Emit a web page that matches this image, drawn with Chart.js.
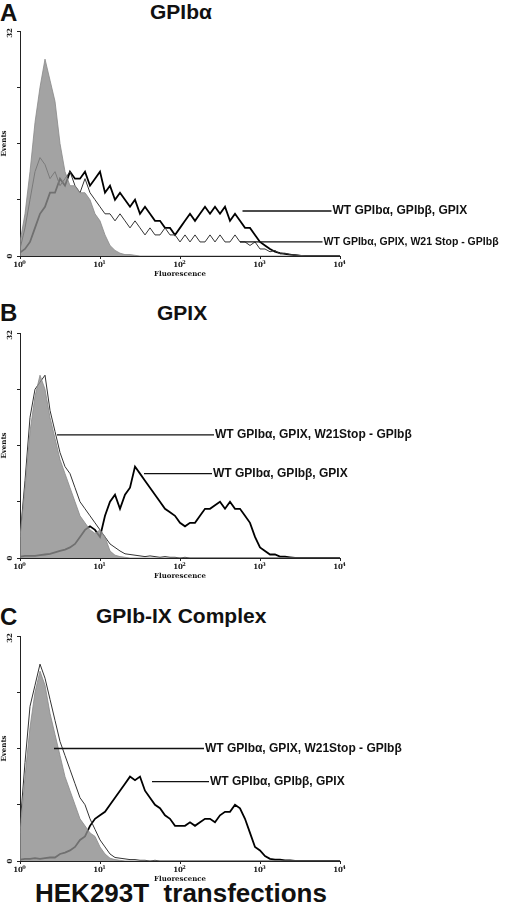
<!DOCTYPE html>
<html><head><meta charset="utf-8">
<script src="https://cdn.jsdelivr.net/npm/chart.js@4"></script>
<style>
body{margin:0;background:#fff;width:520px;height:916px;position:relative;overflow:hidden;font-family:"Liberation Sans",Arial,sans-serif}
.t{position:absolute;font-weight:bold;color:#111;white-space:nowrap}
canvas{position:absolute;left:0}
</style></head><body>
<div class="t" style="left:0;top:-1px;font-size:24px">A</div>
<div class="t" style="left:150px;top:0;font-size:21px">GPIbα</div>
<div class="t" style="left:0;top:299px;font-size:24px">B</div>
<div class="t" style="left:157px;top:301px;font-size:21px">GPIX</div>
<div class="t" style="left:0;top:603px;font-size:24px">C</div>
<div class="t" style="left:96px;top:604px;font-size:21px">GPIb-IX Complex</div>
<div class="t" style="left:35px;top:878px;font-size:26px">HEK293T&nbsp; transfections</div>
<canvas id="cA" width="520" height="260" style="top:20px"></canvas>
<canvas id="cB" width="520" height="260" style="top:322px"></canvas>
<canvas id="cC" width="520" height="260" style="top:625px"></canvas>
<script>
// fluorescence channels: 16 per decade, 10^0 .. 10^4
const decadeLabels = ['0', '1', '2', '3', '4'];

// panel A - GPIbα
const aControl = [2,6,12,19,24,28,25,22,16,12,10,10,9,9,8,6,5,3,1.5,0.8,0.4,0.2,0.2,0.1,0,0,0,0,0,0,0,0,0,0,0,0,0,0,0,0,0,0,0,0,0,0,0,0,0,0,0,0,0,0,0,0,0,0,0,0,0,0,0,0,0];
const aW21 = [1,4,8,12,14,13,11,12,10,11,12,10,9,11,9,8,7,6,6,5,6,5,4,5,4,3,4,3,3,4,3,3,2,3,2,3,2,2,3,2,3,2,2,3,2,2,1.5,2,1,1,0.6,0.8,0.3,0.4,0.2,0.2,0.1,0,0,0,0,0,0,0,0];
const aWT = [0.5,1,2,4,6,7,9,9,11,10,12,11,11,12,10,11,12,9,10,8,9,8,7,8,6,7,6,5,5,4,4,3,4,5,6,5,6,7,6,7,6,7,5,6,5,4,4,3,2,1.5,1,0.6,0.4,0.3,0.2,0.1,0,0,0,0,0,0,0,0,0];
// panel B - GPIX
const bControl = [3,10,18,23,26,24,20,17,14,12,10,8,6,5,4,3.5,4,3,1,0.4,0.2,0.1,0,0,0,0,0,0,0,0,0,0,0,0,0,0,0,0,0,0,0,0,0,0,0,0,0,0,0,0,0,0,0,0,0,0,0,0,0,0,0,0,0,0,0];
const bW21 = [3,11,20,24,25,26,21,18,15,13,12,10,8,7,6,5,4,3,2,1.5,1,0.6,0.5,0.4,0.3,0.2,0.3,0.2,0.1,0.2,0.1,0.1,0,0.1,0,0,0,0,0,0,0,0,0,0,0,0,0,0,0,0,0,0,0,0,0,0,0,0,0,0,0,0,0,0,0];
const bWT = [0.2,0.3,0.3,0.3,0.4,0.5,0.6,0.8,1,1.2,1.5,2,3,4,4.5,4,3,6,8,9,7,9,10,13,12,11,10,9,8,7,6.5,6,5,4.5,5,5,6,7,7,7.5,8,7,8,7,7,6,5,3,1.5,1,0.5,0.5,0.2,0.2,0.1,0,0,0,0,0,0,0,0,0,0];
// panel C - GPIb-IX complex
const cControl = [4,12,19,24,27,25,21,18,15,12,10,8,6,5,4,3.5,2,1,0.4,0.2,0.1,0,0,0,0,0,0,0,0,0,0,0,0,0,0,0,0,0,0,0,0,0,0,0,0,0,0,0,0,0,0,0,0,0,0,0,0,0,0,0,0,0,0,0,0];
const cW21 = [5,14,22,25,28,26,23,20,17,15,13,11,9,8,6,4.5,3,2,1,0.5,0.4,0.3,0.2,0.2,0.1,0.1,0,0.1,0,0,0,0,0,0,0,0,0,0,0,0,0,0,0,0,0,0,0,0,0,0,0,0,0,0,0,0,0,0,0,0,0,0,0,0,0];
const cWT = [0.2,0.3,0.3,0.4,0.3,0.4,0.5,0.5,1,1.2,1.5,2,3,3.5,5,6,6.5,7,8,9,10,11,12,11.5,12,10,9,8,7.5,6.5,6,5,5,5,5.5,5,5.5,6,6,5.5,6.5,7,7,8,7.5,6,4,2,1.5,0.7,0.3,0.2,0.2,0.1,0.1,0,0,0,0,0,0,0,0,0,0];

const labelTop = ['WT GPIbα, GPIbβ, GPIX', 'WT GPIbα, GPIX, W21 Stop - GPIbβ'];
const labelB = ['WT GPIbα, GPIX, W21Stop - GPIbβ', 'WT GPIbα, GPIbβ, GPIX'];

const pts = arr => arr.map((v, i) => ({ x: i, y: v }));

// draws tick labels, axis titles and the pointer lines
const decor = {
  id: 'decor',
  afterDraw(chart, args, opts) {
    const { ctx, chartArea: a, scales: { x, y } } = chart;
    ctx.save();
    ctx.fillStyle = '#111';
    ctx.font = 'bold 7px "DejaVu Serif", serif';
    ctx.textAlign = 'center';
    decadeLabels.forEach((e, i) => {
      const px = x.getPixelForValue(i * 16);
      ctx.fillText('10', px - 2, a.bottom + 11);
      ctx.font = 'bold 5px "DejaVu Serif", serif';
      ctx.fillText(e, px + 4, a.bottom + 8);
      ctx.font = 'bold 7px "DejaVu Serif", serif';
    });
    ctx.fillText('Fluorescence', (a.left + a.right) / 2, a.bottom + 20);
    const vl = (t, py) => { ctx.save(); ctx.translate(a.left - 8, py); ctx.rotate(-Math.PI / 2); ctx.fillText(t, 0, 0); ctx.restore(); };
    vl('0', a.bottom);
    vl('32', a.top + 2);
    ctx.save(); ctx.translate(a.left - 14, (a.top + a.bottom) / 2); ctx.rotate(-Math.PI / 2); ctx.fillText('Events', 0, 0); ctx.restore();
    ctx.strokeStyle = '#111';
    ctx.lineWidth = 1.3;
    ctx.textAlign = 'left';
    ctx.textBaseline = 'middle';
    opts.notes.forEach(n => {
      ctx.font = 'bold ' + (n.size || 12) + 'px "Liberation Sans", Arial, sans-serif';
      const x0 = x.getPixelForValue(n.from), x1 = x.getPixelForValue(n.to), py = y.getPixelForValue(n.y);
      ctx.beginPath(); ctx.moveTo(x0, py); ctx.lineTo(x1, py); ctx.stroke();
      ctx.fillText(n.text, x1 + 1, py);
    });
    ctx.restore();
  }
};

function makeChart(id, control, w21, wt, notes) {
  return new Chart(document.getElementById(id), {
    type: 'line',
    data: {
      datasets: [
        { data: pts(control), borderColor: '#888', borderWidth: 0.8, backgroundColor: 'rgba(140,140,140,0.8)', fill: 'origin', pointRadius: 0 },
        { data: pts(w21), borderColor: '#333', borderWidth: 1, fill: false, pointRadius: 0 },
        { data: pts(wt), borderColor: '#000', borderWidth: 1.8, fill: false, pointRadius: 0 }
      ]
    },
    options: {
      responsive: false, animation: false,
      layout: { padding: { left: 20, right: 180, top: 11, bottom: 0 } },
      plugins: { legend: { display: false }, tooltip: { enabled: false }, decor: { notes } },
      scales: {
        x: { type: 'linear', min: 0, max: 64, afterFit: s => { s.height = 24; },
             ticks: { display: false, stepSize: 16 }, border: { color: '#222', width: 1 },
             grid: { drawOnChartArea: false, tickLength: 3, color: '#222' } },
        y: { min: 0, max: 32, afterFit: s => { s.width = 0; },
             ticks: { display: false, stepSize: 8 }, border: { color: '#222', width: 1 },
             grid: { drawOnChartArea: false, tickLength: 3, color: '#222' } }
      }
    },
    plugins: [decor]
  });
}

makeChart('cA', aControl, aW21, aWT, [
  { from: 44.5, to: 62.3, y: 6.4, text: labelTop[0] },
  { from: 44, to: 60.5, y: 2, text: labelTop[1], size: 10.5 }
]);
makeChart('cB', bControl, bW21, bWT, [
  { from: 7.4, to: 38.8, y: 17.5, text: labelB[0] },
  { from: 24.8, to: 38.4, y: 12, text: labelB[1] }
]);
makeChart('cC', cControl, cW21, cWT, [
  { from: 6.8, to: 36.8, y: 16, text: labelB[0] },
  { from: 26.4, to: 37.8, y: 11.3, text: labelB[1] }
]);
</script>
</body></html>
